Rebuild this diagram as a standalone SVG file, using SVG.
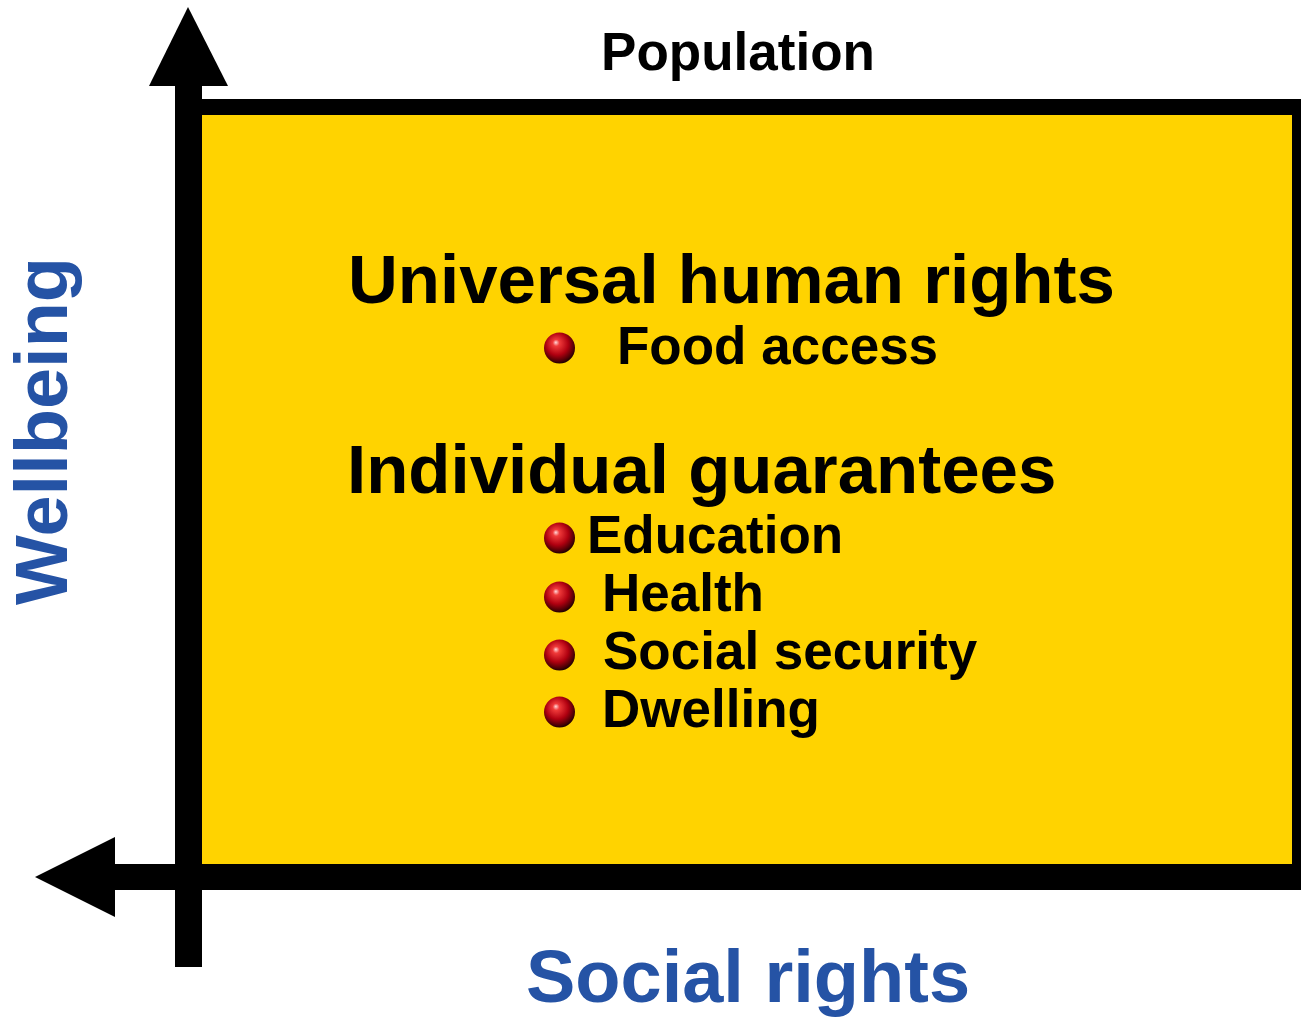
<svg xmlns="http://www.w3.org/2000/svg" width="1301" height="1018" viewBox="0 0 1301 1018">
  <style>
    .t { font-family: "Liberation Sans", Arial, sans-serif; font-weight: bold; fill: #000; }
    .big { font-size: 69px; }
    .item { font-size: 53px; }
    .axis { font-family: "Liberation Sans", Arial, sans-serif; font-weight: bold; fill: #2553A5; font-size: 74px; }
  </style>
  <defs>
    <radialGradient id="ball" cx="0.45" cy="0.4" r="0.6" fx="0.38" fy="0.32">
      <stop offset="0" stop-color="#FFD8D8"/>
      <stop offset="0.18" stop-color="#F03A3A"/>
      <stop offset="0.6" stop-color="#B00010"/>
      <stop offset="0.9" stop-color="#4A0005"/>
      <stop offset="1" stop-color="#200000"/>
    </radialGradient>
  </defs>
  <rect width="1301" height="1018" fill="#fff"/>

  <g id="frame">
    <rect x="188" y="99" width="1113" height="791" fill="#000"/>
    <rect x="202" y="115" width="1090" height="750" fill="#FFD300"/>
  </g>

  <g id="connectors">
    <rect x="175" y="84" width="27" height="883" fill="#000"/>
    <polygon points="188,7 228,86 149,86" fill="#000"/>
    <rect x="113" y="864" width="1188" height="26" fill="#000"/>
    <polygon points="35,877 115,837 115,917" fill="#000"/>
  </g>

  <g id="population">
    <text class="t" x="738" y="70" font-size="53" text-anchor="middle">Population</text>
  </g>

  <g id="universal">
    <text class="t big" x="348" y="303">Universal human rights</text>
    <circle cx="559.5" cy="348" r="15.5" fill="url(#ball)"/>
    <text class="t item" x="617" y="364">Food access</text>
  </g>

  <g id="individual">
    <text class="t big" x="347" y="493">Individual guarantees</text>
    <circle cx="559.5" cy="538" r="15.5" fill="url(#ball)"/>
    <text class="t item" x="587" y="553">Education</text>
    <circle cx="559.5" cy="597" r="15.5" fill="url(#ball)"/>
    <text class="t item" x="602" y="611">Health</text>
    <circle cx="559.5" cy="655" r="15.5" fill="url(#ball)"/>
    <text class="t item" x="603" y="669">Social security</text>
    <circle cx="559.5" cy="712" r="15.5" fill="url(#ball)"/>
    <text class="t item" x="602" y="727">Dwelling</text>
  </g>

  <g id="wellbeing">
    <text class="axis" transform="translate(67,431) rotate(-90)" text-anchor="middle">Wellbeing</text>
  </g>

  <g id="social-rights">
    <text class="axis" x="748" y="1002" text-anchor="middle">Social rights</text>
  </g>
</svg>
